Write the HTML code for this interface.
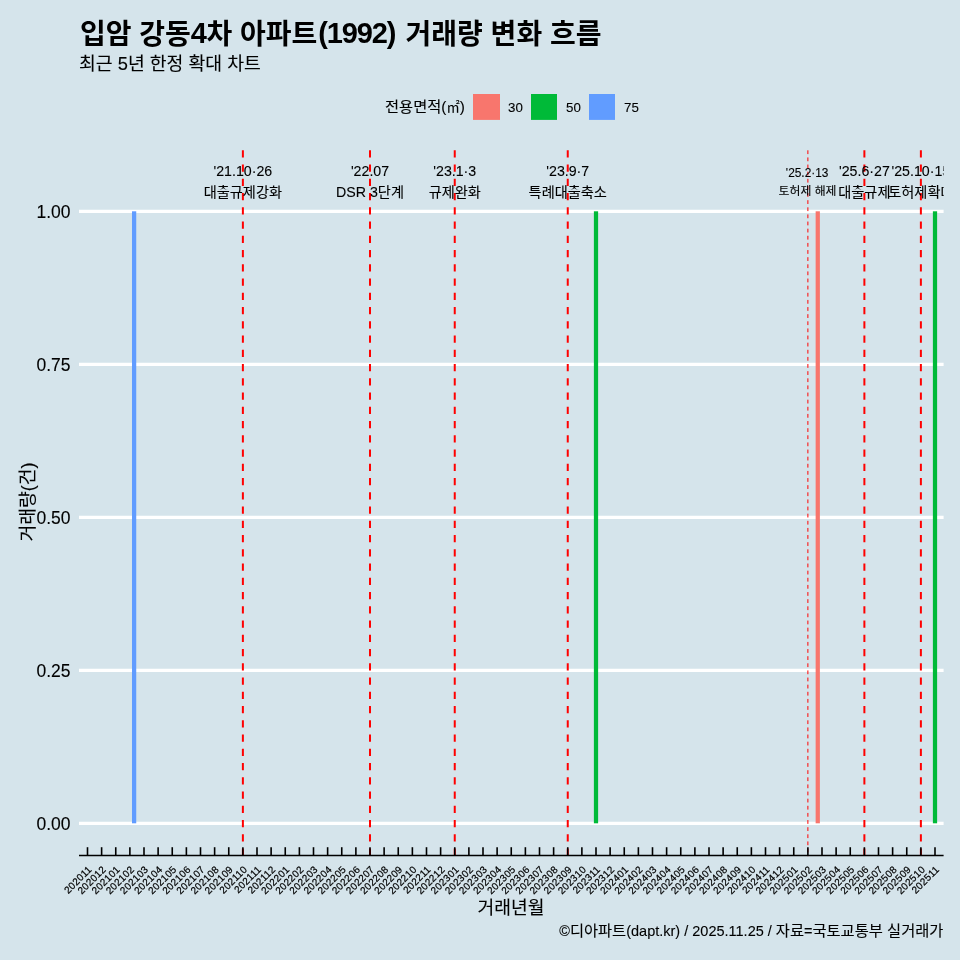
<!DOCTYPE html>
<html lang="ko"><head><meta charset="utf-8"><title>입암 강동4차 아파트(1992) 거래량 변화 흐름</title>
<style>
html,body{margin:0;padding:0;background:#d5e4eb;}
body{width:960px;height:960px;overflow:hidden;position:relative;font-family:"Liberation Sans","Noto Sans CJK KR",sans-serif;color:#000;}
svg{position:absolute;left:0;top:0;display:block;}
text{font-family:"Liberation Sans","Noto Sans CJK KR",sans-serif;fill:#000;stroke:#000;stroke-width:0.1px;}
.title{stroke-width:0;}
.title{font-weight:bold;font-size:28px;}
.tl{font-size:29px;letter-spacing:-0.55px;}
.sub{font-size:18.3px;}
.ylab,.xlab{font-size:18.2px;}
.ytick{font-size:17.5px;text-anchor:end;}
.xtick{font-size:10px;letter-spacing:0.28px;text-anchor:end;stroke:#000;stroke-width:0.2px;}
.leg{font-size:13.3px;}
.legt{font-size:15.3px;}
.ann{font-size:14.2px;text-anchor:middle;}
.ann2{font-size:11.9px;text-anchor:middle;}
.cap{font-size:15.3px;text-anchor:end;}
.cl{font-size:14.5px;}
</style></head><body>
<svg width="960" height="960" viewBox="0 0 960 960">
<rect x="0" y="0" width="960" height="960" fill="#d5e4eb"/>
<text class="title" x="80" y="44.4">입암 강동<tspan class="tl" dy="-1.3">4</tspan><tspan dy="1.3">차 아파트</tspan><tspan class="tl" dy="-1.3" dx="1" style="letter-spacing:-1.15px">(1992)</tspan><tspan dy="1.3" dx="2.6"> 거래량 변화 흐름</tspan></text>
<text class="sub" x="79" y="70.2">최근 5년 한정 확대 차트</text>
<text class="legt" x="385" y="112">전용면적(<tspan style="font-size:13.3px">㎡</tspan>)</text>
<rect x="473" y="94" width="27" height="25.9" fill="#F8766D"/>
<text class="leg" x="508.0" y="112">30</text>
<rect x="531" y="94" width="26" height="25.9" fill="#00BA38"/>
<text class="leg" x="566.0" y="112">50</text>
<rect x="589" y="94" width="26" height="25.9" fill="#619CFF"/>
<text class="leg" x="624.0" y="112">75</text>
<line x1="79.0" x2="943.6" y1="211.3" y2="211.3" stroke="#fff" stroke-width="3.2"/>
<text class="ytick" x="70.5" y="217.6">1.00</text>
<line x1="79.0" x2="943.6" y1="364.3" y2="364.3" stroke="#fff" stroke-width="3.2"/>
<text class="ytick" x="70.5" y="370.6">0.75</text>
<line x1="79.0" x2="943.6" y1="517.3" y2="517.3" stroke="#fff" stroke-width="3.2"/>
<text class="ytick" x="70.5" y="523.6">0.50</text>
<line x1="79.0" x2="943.6" y1="670.3" y2="670.3" stroke="#fff" stroke-width="3.2"/>
<text class="ytick" x="70.5" y="676.6">0.25</text>
<line x1="79.0" x2="943.6" y1="823.3" y2="823.3" stroke="#fff" stroke-width="3.2"/>
<text class="ytick" x="70.5" y="829.6">0.00</text>
<defs><clipPath id="pc"><rect x="79.0" y="150.0" width="864.6" height="706.4"/></clipPath></defs>
<g clip-path="url(#pc)">
<rect x="131.99" y="211.3" width="4.24" height="612.0" fill="#619CFF"/>
<rect x="593.88" y="211.3" width="4.24" height="612.0" fill="#00BA38"/>
<rect x="815.64" y="211.3" width="4.24" height="612.0" fill="#F8766D"/>
<rect x="932.88" y="211.3" width="4.24" height="612.0" fill="#00BA38"/>
<line x1="242.88" x2="242.88" y1="150.3" y2="856.4" stroke="#ff0000" stroke-width="2.0" stroke-dasharray="7.3 6.95"/>
<line x1="370.00" x2="370.00" y1="150.3" y2="856.4" stroke="#ff0000" stroke-width="2.0" stroke-dasharray="7.3 6.95"/>
<line x1="454.75" x2="454.75" y1="150.3" y2="856.4" stroke="#ff0000" stroke-width="2.0" stroke-dasharray="7.3 6.95"/>
<line x1="567.75" x2="567.75" y1="150.3" y2="856.4" stroke="#ff0000" stroke-width="2.0" stroke-dasharray="7.3 6.95"/>
<line x1="807.88" x2="807.88" y1="150.3" y2="856.4" stroke="#ff0000" stroke-width="1" stroke-dasharray="3.8 3.325"/>
<line x1="864.38" x2="864.38" y1="150.3" y2="856.4" stroke="#ff0000" stroke-width="2.0" stroke-dasharray="7.3 6.95"/>
<line x1="920.88" x2="920.88" y1="150.3" y2="856.4" stroke="#ff0000" stroke-width="2.0" stroke-dasharray="7.3 6.95"/>
<text class="ann" x="242.88" y="176">'21.10·26</text>
<text class="ann" x="242.88" y="197">대출규제강화</text>
<text class="ann" x="370.00" y="176">'22.07</text>
<text class="ann" x="370.00" y="197">DSR 3단계</text>
<text class="ann" x="454.75" y="176">'23.1·3</text>
<text class="ann" x="454.75" y="197">규제완화</text>
<text class="ann" x="567.75" y="176">'23.9·7</text>
<text class="ann" x="567.75" y="197">특례대출축소</text>
<text class="ann2" x="807.17" y="177">'25.2·13</text>
<text class="ann2" x="807.58" y="195.3">토허제 해제</text>
<text class="ann" x="864.38" y="176">'25.6·27</text>
<text class="ann" x="864.38" y="197">대출규제</text>
<text class="ann" x="920.88" y="176">'25.10·15</text>
<text class="ann" x="920.88" y="197">토허제확대</text>
</g>
<line x1="79.0" x2="943.6" y1="855.4" y2="855.4" stroke="#000" stroke-width="1.5"/>
<line x1="87.50" x2="87.50" y1="847.2" y2="855.4" stroke="#000" stroke-width="1.6"/>
<line x1="101.62" x2="101.62" y1="847.2" y2="855.4" stroke="#000" stroke-width="1.6"/>
<line x1="115.75" x2="115.75" y1="847.2" y2="855.4" stroke="#000" stroke-width="1.6"/>
<line x1="129.88" x2="129.88" y1="847.2" y2="855.4" stroke="#000" stroke-width="1.6"/>
<line x1="144.00" x2="144.00" y1="847.2" y2="855.4" stroke="#000" stroke-width="1.6"/>
<line x1="158.12" x2="158.12" y1="847.2" y2="855.4" stroke="#000" stroke-width="1.6"/>
<line x1="172.25" x2="172.25" y1="847.2" y2="855.4" stroke="#000" stroke-width="1.6"/>
<line x1="186.38" x2="186.38" y1="847.2" y2="855.4" stroke="#000" stroke-width="1.6"/>
<line x1="200.50" x2="200.50" y1="847.2" y2="855.4" stroke="#000" stroke-width="1.6"/>
<line x1="214.62" x2="214.62" y1="847.2" y2="855.4" stroke="#000" stroke-width="1.6"/>
<line x1="228.75" x2="228.75" y1="847.2" y2="855.4" stroke="#000" stroke-width="1.6"/>
<line x1="242.88" x2="242.88" y1="847.2" y2="855.4" stroke="#000" stroke-width="1.6"/>
<line x1="257.00" x2="257.00" y1="847.2" y2="855.4" stroke="#000" stroke-width="1.6"/>
<line x1="271.12" x2="271.12" y1="847.2" y2="855.4" stroke="#000" stroke-width="1.6"/>
<line x1="285.25" x2="285.25" y1="847.2" y2="855.4" stroke="#000" stroke-width="1.6"/>
<line x1="299.38" x2="299.38" y1="847.2" y2="855.4" stroke="#000" stroke-width="1.6"/>
<line x1="313.50" x2="313.50" y1="847.2" y2="855.4" stroke="#000" stroke-width="1.6"/>
<line x1="327.62" x2="327.62" y1="847.2" y2="855.4" stroke="#000" stroke-width="1.6"/>
<line x1="341.75" x2="341.75" y1="847.2" y2="855.4" stroke="#000" stroke-width="1.6"/>
<line x1="355.88" x2="355.88" y1="847.2" y2="855.4" stroke="#000" stroke-width="1.6"/>
<line x1="370.00" x2="370.00" y1="847.2" y2="855.4" stroke="#000" stroke-width="1.6"/>
<line x1="384.12" x2="384.12" y1="847.2" y2="855.4" stroke="#000" stroke-width="1.6"/>
<line x1="398.25" x2="398.25" y1="847.2" y2="855.4" stroke="#000" stroke-width="1.6"/>
<line x1="412.38" x2="412.38" y1="847.2" y2="855.4" stroke="#000" stroke-width="1.6"/>
<line x1="426.50" x2="426.50" y1="847.2" y2="855.4" stroke="#000" stroke-width="1.6"/>
<line x1="440.62" x2="440.62" y1="847.2" y2="855.4" stroke="#000" stroke-width="1.6"/>
<line x1="454.75" x2="454.75" y1="847.2" y2="855.4" stroke="#000" stroke-width="1.6"/>
<line x1="468.88" x2="468.88" y1="847.2" y2="855.4" stroke="#000" stroke-width="1.6"/>
<line x1="483.00" x2="483.00" y1="847.2" y2="855.4" stroke="#000" stroke-width="1.6"/>
<line x1="497.12" x2="497.12" y1="847.2" y2="855.4" stroke="#000" stroke-width="1.6"/>
<line x1="511.25" x2="511.25" y1="847.2" y2="855.4" stroke="#000" stroke-width="1.6"/>
<line x1="525.38" x2="525.38" y1="847.2" y2="855.4" stroke="#000" stroke-width="1.6"/>
<line x1="539.50" x2="539.50" y1="847.2" y2="855.4" stroke="#000" stroke-width="1.6"/>
<line x1="553.62" x2="553.62" y1="847.2" y2="855.4" stroke="#000" stroke-width="1.6"/>
<line x1="567.75" x2="567.75" y1="847.2" y2="855.4" stroke="#000" stroke-width="1.6"/>
<line x1="581.88" x2="581.88" y1="847.2" y2="855.4" stroke="#000" stroke-width="1.6"/>
<line x1="596.00" x2="596.00" y1="847.2" y2="855.4" stroke="#000" stroke-width="1.6"/>
<line x1="610.12" x2="610.12" y1="847.2" y2="855.4" stroke="#000" stroke-width="1.6"/>
<line x1="624.25" x2="624.25" y1="847.2" y2="855.4" stroke="#000" stroke-width="1.6"/>
<line x1="638.38" x2="638.38" y1="847.2" y2="855.4" stroke="#000" stroke-width="1.6"/>
<line x1="652.50" x2="652.50" y1="847.2" y2="855.4" stroke="#000" stroke-width="1.6"/>
<line x1="666.62" x2="666.62" y1="847.2" y2="855.4" stroke="#000" stroke-width="1.6"/>
<line x1="680.75" x2="680.75" y1="847.2" y2="855.4" stroke="#000" stroke-width="1.6"/>
<line x1="694.88" x2="694.88" y1="847.2" y2="855.4" stroke="#000" stroke-width="1.6"/>
<line x1="709.00" x2="709.00" y1="847.2" y2="855.4" stroke="#000" stroke-width="1.6"/>
<line x1="723.12" x2="723.12" y1="847.2" y2="855.4" stroke="#000" stroke-width="1.6"/>
<line x1="737.25" x2="737.25" y1="847.2" y2="855.4" stroke="#000" stroke-width="1.6"/>
<line x1="751.38" x2="751.38" y1="847.2" y2="855.4" stroke="#000" stroke-width="1.6"/>
<line x1="765.50" x2="765.50" y1="847.2" y2="855.4" stroke="#000" stroke-width="1.6"/>
<line x1="779.62" x2="779.62" y1="847.2" y2="855.4" stroke="#000" stroke-width="1.6"/>
<line x1="793.75" x2="793.75" y1="847.2" y2="855.4" stroke="#000" stroke-width="1.6"/>
<line x1="807.88" x2="807.88" y1="847.2" y2="855.4" stroke="#000" stroke-width="1.6"/>
<line x1="822.00" x2="822.00" y1="847.2" y2="855.4" stroke="#000" stroke-width="1.6"/>
<line x1="836.12" x2="836.12" y1="847.2" y2="855.4" stroke="#000" stroke-width="1.6"/>
<line x1="850.25" x2="850.25" y1="847.2" y2="855.4" stroke="#000" stroke-width="1.6"/>
<line x1="864.38" x2="864.38" y1="847.2" y2="855.4" stroke="#000" stroke-width="1.6"/>
<line x1="878.50" x2="878.50" y1="847.2" y2="855.4" stroke="#000" stroke-width="1.6"/>
<line x1="892.62" x2="892.62" y1="847.2" y2="855.4" stroke="#000" stroke-width="1.6"/>
<line x1="906.75" x2="906.75" y1="847.2" y2="855.4" stroke="#000" stroke-width="1.6"/>
<line x1="920.88" x2="920.88" y1="847.2" y2="855.4" stroke="#000" stroke-width="1.6"/>
<line x1="935.00" x2="935.00" y1="847.2" y2="855.4" stroke="#000" stroke-width="1.6"/>
<text class="xtick" transform="translate(92.40,870.0) rotate(-45)">202011</text>
<text class="xtick" transform="translate(106.53,870.0) rotate(-45)">202012</text>
<text class="xtick" transform="translate(120.65,870.0) rotate(-45)">202101</text>
<text class="xtick" transform="translate(134.78,870.0) rotate(-45)">202102</text>
<text class="xtick" transform="translate(148.90,870.0) rotate(-45)">202103</text>
<text class="xtick" transform="translate(163.03,870.0) rotate(-45)">202104</text>
<text class="xtick" transform="translate(177.15,870.0) rotate(-45)">202105</text>
<text class="xtick" transform="translate(191.28,870.0) rotate(-45)">202106</text>
<text class="xtick" transform="translate(205.40,870.0) rotate(-45)">202107</text>
<text class="xtick" transform="translate(219.53,870.0) rotate(-45)">202108</text>
<text class="xtick" transform="translate(233.65,870.0) rotate(-45)">202109</text>
<text class="xtick" transform="translate(247.78,870.0) rotate(-45)">202110</text>
<text class="xtick" transform="translate(261.90,870.0) rotate(-45)">202111</text>
<text class="xtick" transform="translate(276.02,870.0) rotate(-45)">202112</text>
<text class="xtick" transform="translate(290.15,870.0) rotate(-45)">202201</text>
<text class="xtick" transform="translate(304.27,870.0) rotate(-45)">202202</text>
<text class="xtick" transform="translate(318.40,870.0) rotate(-45)">202203</text>
<text class="xtick" transform="translate(332.52,870.0) rotate(-45)">202204</text>
<text class="xtick" transform="translate(346.65,870.0) rotate(-45)">202205</text>
<text class="xtick" transform="translate(360.77,870.0) rotate(-45)">202206</text>
<text class="xtick" transform="translate(374.90,870.0) rotate(-45)">202207</text>
<text class="xtick" transform="translate(389.02,870.0) rotate(-45)">202208</text>
<text class="xtick" transform="translate(403.15,870.0) rotate(-45)">202209</text>
<text class="xtick" transform="translate(417.27,870.0) rotate(-45)">202210</text>
<text class="xtick" transform="translate(431.40,870.0) rotate(-45)">202211</text>
<text class="xtick" transform="translate(445.52,870.0) rotate(-45)">202212</text>
<text class="xtick" transform="translate(459.65,870.0) rotate(-45)">202301</text>
<text class="xtick" transform="translate(473.77,870.0) rotate(-45)">202302</text>
<text class="xtick" transform="translate(487.90,870.0) rotate(-45)">202303</text>
<text class="xtick" transform="translate(502.02,870.0) rotate(-45)">202304</text>
<text class="xtick" transform="translate(516.15,870.0) rotate(-45)">202305</text>
<text class="xtick" transform="translate(530.27,870.0) rotate(-45)">202306</text>
<text class="xtick" transform="translate(544.40,870.0) rotate(-45)">202307</text>
<text class="xtick" transform="translate(558.52,870.0) rotate(-45)">202308</text>
<text class="xtick" transform="translate(572.65,870.0) rotate(-45)">202309</text>
<text class="xtick" transform="translate(586.77,870.0) rotate(-45)">202310</text>
<text class="xtick" transform="translate(600.90,870.0) rotate(-45)">202311</text>
<text class="xtick" transform="translate(615.02,870.0) rotate(-45)">202312</text>
<text class="xtick" transform="translate(629.15,870.0) rotate(-45)">202401</text>
<text class="xtick" transform="translate(643.27,870.0) rotate(-45)">202402</text>
<text class="xtick" transform="translate(657.40,870.0) rotate(-45)">202403</text>
<text class="xtick" transform="translate(671.52,870.0) rotate(-45)">202404</text>
<text class="xtick" transform="translate(685.65,870.0) rotate(-45)">202405</text>
<text class="xtick" transform="translate(699.77,870.0) rotate(-45)">202406</text>
<text class="xtick" transform="translate(713.90,870.0) rotate(-45)">202407</text>
<text class="xtick" transform="translate(728.02,870.0) rotate(-45)">202408</text>
<text class="xtick" transform="translate(742.15,870.0) rotate(-45)">202409</text>
<text class="xtick" transform="translate(756.27,870.0) rotate(-45)">202410</text>
<text class="xtick" transform="translate(770.40,870.0) rotate(-45)">202411</text>
<text class="xtick" transform="translate(784.52,870.0) rotate(-45)">202412</text>
<text class="xtick" transform="translate(798.65,870.0) rotate(-45)">202501</text>
<text class="xtick" transform="translate(812.77,870.0) rotate(-45)">202502</text>
<text class="xtick" transform="translate(826.90,870.0) rotate(-45)">202503</text>
<text class="xtick" transform="translate(841.02,870.0) rotate(-45)">202504</text>
<text class="xtick" transform="translate(855.15,870.0) rotate(-45)">202505</text>
<text class="xtick" transform="translate(869.27,870.0) rotate(-45)">202506</text>
<text class="xtick" transform="translate(883.40,870.0) rotate(-45)">202507</text>
<text class="xtick" transform="translate(897.52,870.0) rotate(-45)">202508</text>
<text class="xtick" transform="translate(911.65,870.0) rotate(-45)">202509</text>
<text class="xtick" transform="translate(925.77,870.0) rotate(-45)">202510</text>
<text class="xtick" transform="translate(939.90,870.0) rotate(-45)">202511</text>
<text class="ylab" text-anchor="middle" transform="translate(33.8,501.9) rotate(-90)">거래량(건)</text>
<text class="xlab" text-anchor="middle" x="511" y="914">거래년월</text>
<text class="cap" x="943.4" y="936"><tspan class="cl">©</tspan>디아파트<tspan class="cl">(dapt.kr) / 2025.11.25 / </tspan>자료<tspan class="cl">=</tspan>국토교통부 실거래가</text>
</svg></body></html>
